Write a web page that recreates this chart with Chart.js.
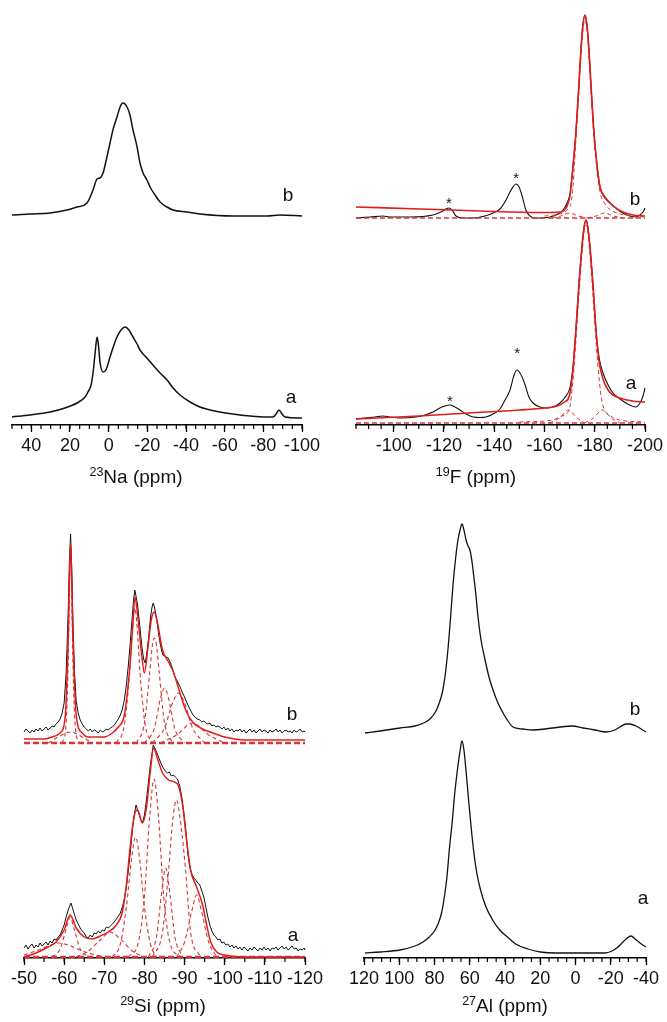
<!DOCTYPE html>
<html>
<head>
<meta charset="utf-8">
<title>NMR spectra</title>
<script src="https://cdn.jsdelivr.net/npm/chart.js@4.4.0/dist/chart.umd.min.js"></script>
<style>
  html, body { margin: 0; padding: 0; background: #fff; }
  body { width: 667px; height: 1022px; position: relative; overflow: hidden; }
  canvas { position: absolute; }
</style>
</head>
<body>
<canvas id="naChart" width="333" height="420" style="left:0px;top:80px"></canvas>
<canvas id="fChart" width="334" height="500" style="left:333px;top:0px"></canvas>
<canvas id="siChart" width="333" height="507" style="left:0px;top:515px"></canvas>
<canvas id="alChart" width="334" height="517" style="left:333px;top:505px"></canvas>
<script>
// ---------- 23Na spectra: [ppm, intensity] ----------
const NA_A = [[50,1],[40.7,3],[30.3,6],[22.6,10],[16.4,15],[12.2,21],[10.7,26],[9.1,33],[8.1,45],[7.1,63],[6.0,81],[5.3,73],[4.5,56],[2.9,46],[1.4,48],[-0.7,61],[-2.2,70],[-4.3,81],[-6.4,88],[-8.5,91],[-10.5,88],[-12.6,81],[-14.7,74],[-16.2,68],[-19.3,61],[-22.9,53],[-26.6,45],[-30.2,38],[-33.3,30],[-36.9,23],[-42.1,16],[-47.2,11],[-55.0,7],[-64.3,4],[-73.1,2],[-81.9,1],[-85.0,1],[-86.6,4],[-88.1,8],[-89.7,4],[-91.2,1],[-100,0]];
const NA_B = [[50,0],[40.7,1],[30.3,2],[21.6,5],[16.4,8],[11.2,12],[8.1,25],[6.0,36],[4.5,37],[2.9,42],[0.9,58],[-0.7,72],[-2.2,85],[-4.3,98],[-5.9,108],[-7.4,112],[-9.5,108],[-11.0,100],[-12.6,85],[-14.7,68],[-16.2,52],[-17.8,42],[-19.8,35],[-21.4,28],[-24.0,20],[-26.6,13],[-30.2,8],[-33.3,5],[-40.5,3],[-47.2,1],[-64.3,-1],[-81.9,-1],[-88.6,0],[-100,-1]];
const NA_TICKS = [40, 20, 0, -20, -40, -60, -80, -100];
const NA_MINOR = [50,45,40,35,30,25,20,15,10,5,0,-5,-10,-15,-20,-25,-30,-35,-40,-45,-50,-55,-60,-65,-70,-75,-80,-85,-90,-95,-100];

// ---------- 19F spectra ----------
const F_B_RAW = [[-85,0],[-90.6,1],[-95.7,2],[-98.5,1],[-106.5,1],[-115.6,3],[-118.8,6],[-120.8,9],[-122.0,10],[-123.2,8],[-124.8,2],[-127.6,0],[-131.6,0],[-136.3,2],[-139.5,5],[-142.3,9],[-144.7,18],[-146.7,28],[-148.7,34],[-149.9,31],[-151.1,22],[-152.6,8],[-154.2,2],[-156.2,0],[-162.2,1],[-165.4,4],[-167.4,8],[-169.0,15],[-170.2,25],[-171.4,53],[-172.5,85],[-173.7,133],[-174.5,168],[-175.3,193],[-176.1,203],[-176.9,193],[-177.7,168],[-178.5,133],[-179.7,85],[-180.9,53],[-182.1,31],[-184.1,20],[-186.1,15],[-188.9,9],[-191.2,5],[-194.0,2],[-196.4,1],[-198.0,3],[-199.2,6],[-200,10]];
const F_B_FIT = [[-85,11],[-110.5,9],[-134.3,7],[-158.2,5.5],[-166.2,6],[-168.6,10],[-170.2,23],[-171.4,53],[-172.5,85],[-173.7,133],[-174.5,168],[-175.3,193],[-176.1,203],[-176.9,193],[-177.7,168],[-178.5,133],[-179.7,85],[-180.9,53],[-182.1,31],[-184.1,21],[-186.1,15],[-188.9,9],[-191.2,6],[-195.2,3],[-200,2]];
const F_B_MAIN = [[-160,2],[-166,4],[-169,8],[-171,22],[-172.5,78],[-173.7,127],[-174.5,162],[-175.3,188],[-176.1,198],[-176.9,188],[-177.7,162],[-178.5,127],[-179.7,80],[-180.9,48],[-182.1,26],[-184.1,14],[-187,7],[-192,3],[-200,1]];
const F_B_SIDE1 = [[-163,0],[-166.5,2],[-170,5],[-173.5,2],[-177,0]];
const F_B_SIDE2 = [[-177,0],[-180.5,2],[-184,5],[-187.5,2],[-191,0]];
const F_A_RAW = [[-85,4],[-88.6,5],[-92.6,6],[-95.7,7],[-98.5,6],[-102.5,5],[-108.9,6],[-112.5,8],[-115.6,11],[-118.4,15],[-120.4,17],[-122.4,18],[-124.4,16],[-126.4,13],[-128.8,9],[-131.6,6],[-134.3,5.5],[-136.7,6],[-139.5,9],[-142.3,14],[-144.3,23],[-146.3,33],[-147.9,48],[-149.1,53],[-150.7,48],[-152.3,38],[-153.8,26],[-155.4,20],[-158.2,16],[-160.6,15],[-163.4,16],[-166.2,20],[-168.2,26],[-170.2,36],[-171.4,58],[-172.5,93],[-173.7,138],[-174.9,176],[-175.7,195],[-176.5,203],[-177.3,195],[-178.1,176],[-179.3,138],[-180.5,93],[-181.7,66],[-183.3,50],[-185.3,38],[-187.3,30],[-190.1,24],[-192.4,20],[-194.8,17],[-196.4,16],[-198.0,20],[-199.2,27],[-200,35]];
const F_A_FIT = [[-85,4],[-110,7],[-130,10],[-150,13],[-160,15],[-165,17],[-168,21],[-170,28],[-171.4,55],[-172.5,93],[-173.7,138],[-174.9,176],[-175.7,195],[-176.5,203],[-177.3,195],[-178.1,176],[-179.3,138],[-180.5,93],[-181.7,62],[-183.3,44],[-185.3,33],[-187.3,28],[-190,25],[-195,22],[-200,21]];
const F_A_MAIN = [[-150,1],[-163,3],[-167,7],[-170,15],[-171.4,45],[-172.5,82],[-173.7,128],[-174.9,168],[-175.7,190],[-176.5,198],[-177.3,190],[-178.1,168],[-179.3,128],[-180.5,82],[-181.7,45],[-183,20],[-186,8],[-190,3],[-200,1]];
const F_A_SIDE1 = [[-162,0],[-166,5],[-169.5,13],[-173,5],[-176,0]];
const F_A_SIDE2 = [[-176,0],[-179.5,5],[-183,13],[-186.5,5],[-190,0]];
const F_BASE = [[-85,0],[-200,0]];
const F_STARS_B = [[-122,19],[-148.7,44]];
const F_STARS_A = [[-122.4,26],[-149.1,74]];
const F_TICKS = [-100, -120, -140, -160, -180, -200];
const F_MINOR = [-85,-90,-95,-100,-105,-110,-115,-120,-125,-130,-135,-140,-145,-150,-155,-160,-165,-170,-175,-180,-185,-190,-195,-200];

// ---------- 29Si spectra ----------
const SI_A_RAW = [[-50,9],[-50.5,12],[-51,8],[-51.5,11],[-52,13],[-52.5,9],[-53,12],[-53.5,10],[-54,14],[-54.5,11],[-55,13],[-55.5,15],[-56,12],[-56.5,16],[-57,14],[-57.5,18],[-58,17],[-58.5,20],[-59,22],[-59.5,27],[-60,32],[-60.5,40],[-61,47],[-61.7,54],[-62.3,46],[-63,37],[-63.5,33],[-64,29],[-64.5,26],[-65,24],[-65.5,20],[-66,19],[-66.5,22],[-67,20],[-67.5,24],[-68,23],[-68.5,26],[-69,24],[-69.5,27],[-70,26],[-70.5,30],[-71,29],[-71.5,31],[-72,33],[-72.5,35],[-73,38],[-73.5,41],[-74,44],[-74.5,50],[-75,58],[-75.5,70],[-76,87],[-76.5,105],[-77,127],[-77.5,143],[-77.9,152],[-78.4,146],[-78.8,141],[-79.2,136],[-79.6,135],[-80,142],[-80.5,157],[-81,175],[-81.5,193],[-82.2,212],[-82.7,208],[-83.2,203],[-83.7,198],[-84.2,193],[-84.7,189],[-85.2,186],[-85.7,184],[-86.2,185],[-86.7,181],[-87.2,182],[-87.7,180],[-88.2,178],[-88.8,171],[-89.3,160],[-89.8,145],[-90.3,127],[-90.8,104],[-91.3,90],[-91.8,83],[-92.3,79],[-92.8,77],[-93.3,74],[-93.8,72],[-94.3,66],[-94.8,60],[-95.3,50],[-95.8,40],[-96.3,32],[-96.8,26],[-97.3,22],[-97.8,20],[-98.3,17],[-98.8,18],[-99.3,14],[-99.8,15],[-100.3,12],[-100.8,13],[-101.3,10],[-101.8,12],[-102.3,9],[-102.8,11],[-103.3,8],[-103.8,10],[-104.3,7],[-104.8,10],[-105.3,8],[-105.8,6],[-106.3,9],[-106.8,7],[-107.3,10],[-107.8,8],[-108.3,6],[-108.8,9],[-109.3,7],[-109.8,10],[-110.3,7],[-110.8,9],[-111.3,6],[-111.8,9],[-112.3,8],[-112.8,10],[-113.3,7],[-113.8,9],[-114.3,11],[-114.8,8],[-115.3,10],[-115.8,7],[-116.3,9],[-116.8,11],[-117.3,8],[-117.8,9],[-118.3,6],[-118.8,8],[-119.3,7],[-119.8,9],[-120,7]];
const SI_A_FIT = [[-50,0],[-53,4],[-56,10],[-58,15],[-60,27],[-61.5,42],[-63,29],[-65,20],[-67,18],[-69,21],[-71,25],[-73,32],[-74.5,45],[-75.5,72],[-76.5,112],[-77.5,142],[-78.3,147],[-79.5,134],[-80.5,149],[-81.5,187],[-82.3,209],[-83.2,199],[-84.5,184],[-86,177],[-87.5,175],[-88.5,171],[-89.5,152],[-90.5,117],[-91.5,87],[-93,70],[-94.5,52],[-95.5,32],[-96.5,15],[-98,5],[-100,2],[-105,0],[-120,0]];
const SI_A_C1 = [[-57,0],[-59,8],[-60.5,28],[-61.5,40],[-62.5,28],[-64,8],[-66,0]];
const SI_A_C2 = [[-50,2],[-53,6],[-56,11],[-58.5,14],[-61,12],[-64,7],[-67,3],[-70,0]];
const SI_A_C3 = [[-63,0],[-66,6],[-69,17],[-71.5,25],[-74,18],[-77,6],[-80,0]];
const SI_A_C4 = [[-72,0],[-74,13],[-75.5,50],[-76.8,98],[-77.8,120],[-78.8,98],[-80,50],[-81.5,13],[-83,0]];
const SI_A_C5 = [[-76,0],[-78.5,15],[-80,60],[-81.3,140],[-82.4,178],[-83.5,140],[-84.8,60],[-86.3,15],[-89,0]];
const SI_A_C6 = [[-81,0],[-83,20],[-84.3,65],[-85.3,89],[-86.3,65],[-87.6,20],[-89.5,0]];
const SI_A_C7 = [[-82,0],[-84.5,25],[-86,85],[-87,135],[-88,157],[-89,135],[-90.3,85],[-91.5,25],[-94,0]];
const SI_A_C8 = [[-88,0],[-90,15],[-91.8,46],[-93,62],[-94.2,46],[-96,15],[-98,0]];
const SI_B_RAW = [[-50,11],[-50.5,14],[-51,12],[-51.5,10],[-52,13],[-52.5,11],[-53,14],[-53.5,12],[-54,15],[-54.5,12],[-55,14],[-55.5,16],[-56,13],[-56.5,15],[-57,17],[-57.5,16],[-58,19],[-58.5,21],[-59,24],[-59.5,30],[-60,40],[-60.5,70],[-61,130],[-61.3,180],[-61.6,209],[-61.9,175],[-62.2,120],[-62.6,70],[-63,42],[-63.5,30],[-64,23],[-64.5,19],[-65,16],[-65.5,14],[-66,12],[-66.5,14],[-67,11],[-67.5,13],[-68,12],[-68.5,10],[-69,13],[-69.5,11],[-70,12],[-70.5,14],[-71,13],[-71.5,15],[-72,16],[-72.5,18],[-73,21],[-73.5,24],[-74,28],[-74.5,34],[-75,43],[-75.5,58],[-76,78],[-76.5,102],[-77,128],[-77.3,143],[-77.6,153],[-77.9,147],[-78.3,138],[-78.7,122],[-79,111],[-79.4,95],[-79.8,84],[-80.2,80],[-80.6,90],[-81,104],[-81.5,125],[-81.9,136],[-82.2,140],[-82.6,134],[-83.1,123],[-83.5,110],[-83.9,100],[-84.3,92],[-84.6,88],[-85,87],[-85.5,86],[-85.9,85],[-86.5,80],[-87.1,73],[-87.6,66],[-88.2,62],[-88.9,56],[-89.5,50],[-90,46],[-90.6,40],[-91.2,35],[-91.7,31],[-92.1,28],[-92.6,26],[-93.2,24],[-93.8,23],[-94.3,21],[-94.8,22],[-95.3,20],[-95.8,19],[-96.3,20],[-96.8,17],[-97.3,18],[-97.8,16],[-98.3,17],[-98.8,16],[-99.3,14],[-99.8,16],[-100.3,13],[-100.8,15],[-101.3,12],[-101.8,14],[-102.3,11],[-102.8,13],[-103.3,12],[-103.8,14],[-104.3,11],[-104.8,13],[-105.3,10],[-105.8,12],[-106.3,14],[-106.8,11],[-107.3,13],[-107.8,10],[-108.3,12],[-108.8,14],[-109.3,11],[-109.8,13],[-110.3,12],[-110.8,10],[-111.3,13],[-111.8,11],[-112.3,12],[-112.8,14],[-113.3,11],[-113.8,13],[-114.3,10],[-114.8,12],[-115.3,13],[-115.8,11],[-116.3,12],[-116.8,10],[-117.3,13],[-117.8,11],[-118.3,12],[-118.8,14],[-119.3,11],[-119.8,12],[-120,11]];
const SI_B_FIT = [[-50,4],[-55,4],[-57,6],[-59,10],[-60.3,28],[-61,103],[-61.6,200],[-62.2,103],[-63,28],[-64.5,10],[-66,6],[-70,6],[-72,10],[-73.5,16],[-75,28],[-76.3,73],[-77.2,123],[-77.6,146],[-78.3,128],[-79.2,93],[-80.0,70],[-80.8,93],[-81.7,123],[-82.4,131],[-83.2,121],[-84.5,93],[-86,81],[-87.3,70],[-89,48],[-90.5,31],[-92,21],[-94,15],[-97,10],[-100,6],[-105,3],[-110,3],[-120,3]];
const SI_B_C1 = [[-59.5,0],[-60.5,20],[-61,80],[-61.3,150],[-61.6,196],[-61.9,150],[-62.2,80],[-62.7,20],[-63.7,0]];
const SI_B_C1B = [[-56,0],[-58.5,6],[-61.5,11],[-64.5,6],[-67,0]];
const SI_B_C2 = [[-73,0],[-75,18],[-76.3,70],[-77,115],[-77.6,135],[-78.2,115],[-78.9,70],[-80.2,18],[-82,0]];
const SI_B_C3 = [[-78,0],[-80,20],[-81.3,70],[-82,98],[-82.5,105],[-83,98],[-83.7,70],[-85,20],[-87,0]];
const SI_B_C4 = [[-80,0],[-82.5,15],[-84,45],[-85,55],[-86,45],[-87.5,15],[-90,0]];
const SI_B_C5 = [[-82,0],[-85,15],[-87,40],[-88.5,50],[-90,40],[-92,15],[-95,0]];
const SI_B_C6 = [[-84,0],[-88,8],[-92,20],[-96,8],[-100,0]];
const SI_BASE = [[-50,0],[-120,0]];
const SI_TICKS = [-50, -60, -70, -80, -90, -100, -110, -120];
const SI_MINOR = [-50,-55,-60,-65,-70,-75,-80,-85,-90,-95,-100,-105,-110,-115,-120];

// ---------- 27Al spectra ----------
const AL_A = [[119.4,0],[110.9,1],[99.6,3],[91.1,7],[86.5,11],[83,16],[80,22],[78,29],[76,40],[74.5,55],[73,75],[71.5,105],[70,130],[68.5,160],[67,183],[65.5,202],[64.4,212],[63.3,203],[62,180],[60.5,150],[59,122],[57.5,98],[56,80],[54,64],[51,47],[47,33],[43,23],[38,15],[34,9],[27,4],[20,1],[11.1,0],[1.4,0],[-8.2,0],[-16.7,0],[-20.7,2],[-24.1,6],[-27.5,12],[-31.5,17],[-33.8,14],[-36.6,10],[-40,6]];
const AL_B = [[119.4,-3],[110.9,-1],[99.6,2],[91.1,4],[85,8],[82,12],[79.5,18],[77.5,26],[75.5,38],[74,54],[72.5,78],[71,110],[69.5,145],[68,172],[66.7,190],[65.5,200],[64.4,206],[63.3,200],[62.1,190],[61.0,184],[59.9,180],[58.7,168],[57.6,152],[56.5,135],[55.3,113],[53.6,90],[51.3,70],[49.1,53],[46.8,40],[44.0,27],[41.1,17],[38.3,9],[35.5,3],[29.8,1],[24.1,0],[17.3,1],[8.8,3],[2.0,4],[-4.3,2],[-11.1,0],[-17.3,-2],[-22.4,0],[-25.2,3],[-28.7,6],[-30.9,6],[-34.3,4],[-37.2,1],[-40,-2]];
const AL_TICKS = [120, 100, 80, 60, 40, 20, 0, -20, -40];
const AL_MINOR = [120,115,110,105,100,95,90,85,80,75,70,65,60,55,50,45,40,35,30,25,20,15,10,5,0,-5,-10,-15,-20,-25,-30,-35,-40];

// ---------- drawing ----------
const FONT = "'Liberation Sans', Arial, Helvetica, sans-serif";
const TICK_SIZE = 18;
const INK = '#111';
const RED = 'rgb(226,28,28)';
const RED_DASH = 'rgb(214,54,54)';

function pts(pairs, offset) {
  return pairs.map(([x, y]) => ({ x: x, y: y + offset }));
}

function trace(pairs, offset, color, width, opts) {
  opts = opts || {};
  return {
    data: pts(pairs, offset),
    borderColor: color,
    borderWidth: width,
    borderDash: opts.dash || [],
    cubicInterpolationMode: opts.jagged ? 'default' : 'monotone',
    tension: 0,
    pointRadius: 0,
    fill: false,
    clip: false
  };
}

function decorPlugin(panel) {
  return {
    id: 'decor',
    afterDraw(chart) {
      const ctx = chart.ctx;
      const xs = chart.scales.x, ys = chart.scales.y;
      const ox = panel.left, oy = panel.top;
      ctx.save();
      // minor ticks under the axis line
      ctx.strokeStyle = '#000';
      ctx.lineWidth = 1.2;
      panel.minor.forEach(v => {
        const px = xs.getPixelForValue(v);
        ctx.beginPath();
        ctx.moveTo(px, xs.top);
        ctx.lineTo(px, xs.top + 4);
        ctx.stroke();
      });
      ctx.fillStyle = INK;
      ctx.textAlign = 'center';
      ctx.textBaseline = 'alphabetic';
      // sample letters
      ctx.font = '19px ' + FONT;
      panel.labels.forEach(l => ctx.fillText(l.t, l.x - ox, l.y - oy));
      // spinning-sideband asterisks
      ctx.font = '15px ' + FONT;
      (panel.stars || []).forEach(s => {
        s.pts.forEach(([ppm, h]) => {
          ctx.fillText('*', xs.getPixelForValue(ppm), ys.getPixelForValue(h + s.offset) + 8.5);
        });
      });
      // axis title with isotope superscript
      const t = panel.title;
      ctx.font = '12.5px ' + FONT;
      const ws = ctx.measureText(t.sup).width;
      ctx.font = '19px ' + FONT;
      const wm = ctx.measureText(t.text).width;
      const x0 = t.cx - ox - (ws + wm) / 2;
      const yb = t.base - oy;
      ctx.textAlign = 'left';
      ctx.font = '12.5px ' + FONT;
      ctx.fillText(t.sup, x0, yb - 7);
      ctx.font = '19px ' + FONT;
      ctx.fillText(t.text, x0 + ws, yb);
      ctx.restore();
    }
  };
}

function makePanel(panel) {
  const tickVals = panel.ticks.slice().sort((a, b) => a - b);
  return new Chart(document.getElementById(panel.id), {
    type: 'line',
    data: { datasets: panel.datasets },
    options: {
      responsive: false,
      animation: false,
      events: [],
      layout: { padding: panel.pad },
      plugins: { legend: { display: false }, tooltip: { enabled: false } },
      scales: {
        x: {
          type: 'linear',
          reverse: true,
          min: panel.range[1],
          max: panel.range[0],
          afterBuildTicks: ax => { ax.ticks = tickVals.map(v => ({ value: v })); },
          ticks: {
            autoSkip: false, maxRotation: 0, minRotation: 0, padding: 3,
            color: INK, font: { family: FONT, size: TICK_SIZE },
            callback: v => String(v)
          },
          grid: {
            display: true, drawOnChartArea: false, drawTicks: true,
            tickLength: 7, tickWidth: 1.3, tickColor: '#000'
          },
          border: { display: true, color: '#000', width: 1.5 }
        },
        y: { display: false, min: 0, max: panel.yMax }
      }
    },
    plugins: [decorPlugin(panel)]
  });
}

// 23Na
makePanel({
  id: 'naChart', left: 0, top: 80,
  pad: { left: 12, right: 31, top: 15, bottom: 40.4 },
  range: [50, -100], yMax: 330,
  ticks: NA_TICKS, minor: NA_MINOR,
  datasets: [
    trace(NA_B, 210, INK, 1.5),
    trace(NA_A, 7, INK, 1.5)
  ],
  labels: [{ t: 'b', x: 288, y: 201 }, { t: 'a', x: 291, y: 403 }],
  title: { sup: '23', text: 'Na (ppm)', cx: 136, base: 483 }
});

// 19F
makePanel({
  id: 'fChart', left: 333, top: 0,
  pad: { left: 23, right: 22, top: 10, bottom: 40.4 },
  range: [-85, -200], yMax: 415,
  ticks: F_TICKS, minor: F_MINOR,
  datasets: [
    trace(F_B_FIT, 207, RED, 1.6),
    trace(F_A_FIT, 2, RED, 1.6),
    trace(F_B_MAIN, 207, RED_DASH, 1, { dash: [4, 3] }),
    trace(F_B_SIDE1, 207, RED_DASH, 1, { dash: [4, 3] }),
    trace(F_B_SIDE2, 207, RED_DASH, 1, { dash: [4, 3] }),
    trace(F_BASE, 207, RED_DASH, 1.3, { dash: [5, 3] }),
    trace(F_A_MAIN, 2, RED_DASH, 1, { dash: [4, 3] }),
    trace(F_A_SIDE1, 2, RED_DASH, 1, { dash: [4, 3] }),
    trace(F_A_SIDE2, 2, RED_DASH, 1, { dash: [4, 3] }),
    trace(F_BASE, 2, RED_DASH, 1.3, { dash: [5, 3] }),
    trace(F_B_RAW, 207, INK, 1.1),
    trace(F_A_RAW, 2, INK, 1.1)
  ],
  stars: [{ pts: F_STARS_B, offset: 207 }, { pts: F_STARS_A, offset: 2 }],
  labels: [{ t: 'b', x: 635, y: 205 }, { t: 'a', x: 631, y: 389 }],
  title: { sup: '19', text: 'F (ppm)', cx: 476, base: 483 }
});

// 29Si
makePanel({
  id: 'siChart', left: 0, top: 515,
  pad: { left: 24, right: 28, top: 10, bottom: 29.4 },
  range: [-50, -120], yMax: 433,
  ticks: SI_TICKS, minor: SI_MINOR,
  datasets: [
    trace(SI_B_FIT, 215, RED, 1.5),
    trace(SI_A_FIT, 1, RED, 1.5),
    trace(SI_B_C1, 215, RED_DASH, 1.1, { dash: [4, 3] }),
    trace(SI_B_C1B, 215, RED_DASH, 1.1, { dash: [4, 3] }),
    trace(SI_B_C2, 215, RED_DASH, 1.1, { dash: [4, 3] }),
    trace(SI_B_C3, 215, RED_DASH, 1.1, { dash: [4, 3] }),
    trace(SI_B_C4, 215, RED_DASH, 1.1, { dash: [4, 3] }),
    trace(SI_B_C5, 215, RED_DASH, 1.1, { dash: [4, 3] }),
    trace(SI_B_C6, 215, RED_DASH, 1.1, { dash: [4, 3] }),
    trace(SI_BASE, 215, RED_DASH, 2.4, { dash: [6, 3] }),
    trace(SI_A_C1, 1, RED_DASH, 1.1, { dash: [4, 3] }),
    trace(SI_A_C2, 1, RED_DASH, 1.1, { dash: [4, 3] }),
    trace(SI_A_C3, 1, RED_DASH, 1.1, { dash: [4, 3] }),
    trace(SI_A_C4, 1, RED_DASH, 1.1, { dash: [4, 3] }),
    trace(SI_A_C5, 1, RED_DASH, 1.1, { dash: [4, 3] }),
    trace(SI_A_C6, 1, RED_DASH, 1.1, { dash: [4, 3] }),
    trace(SI_A_C7, 1, RED_DASH, 1.1, { dash: [4, 3] }),
    trace(SI_A_C8, 1, RED_DASH, 1.1, { dash: [4, 3] }),
    trace(SI_BASE, 1, RED_DASH, 2.4, { dash: [6, 3] }),
    trace(SI_B_RAW, 215, INK, 1, { jagged: true }),
    trace(SI_A_RAW, 1, INK, 1, { jagged: true })
  ],
  labels: [{ t: 'b', x: 292, y: 720 }, { t: 'a', x: 293, y: 941 }],
  title: { sup: '29', text: 'Si (ppm)', cx: 163, base: 1012 }
});

// 27Al
makePanel({
  id: 'alChart', left: 333, top: 505,
  pad: { left: 31, right: 21, top: 10, bottom: 29.4 },
  range: [120, -40], yMax: 443,
  ticks: AL_TICKS, minor: AL_MINOR,
  datasets: [
    trace(AL_B, 228, INK, 1.3),
    trace(AL_A, 5, INK, 1.3)
  ],
  labels: [{ t: 'b', x: 635, y: 715 }, { t: 'a', x: 643, y: 904 }],
  title: { sup: '27', text: 'Al (ppm)', cx: 505, base: 1012 }
});
</script>
</body>
</html>
